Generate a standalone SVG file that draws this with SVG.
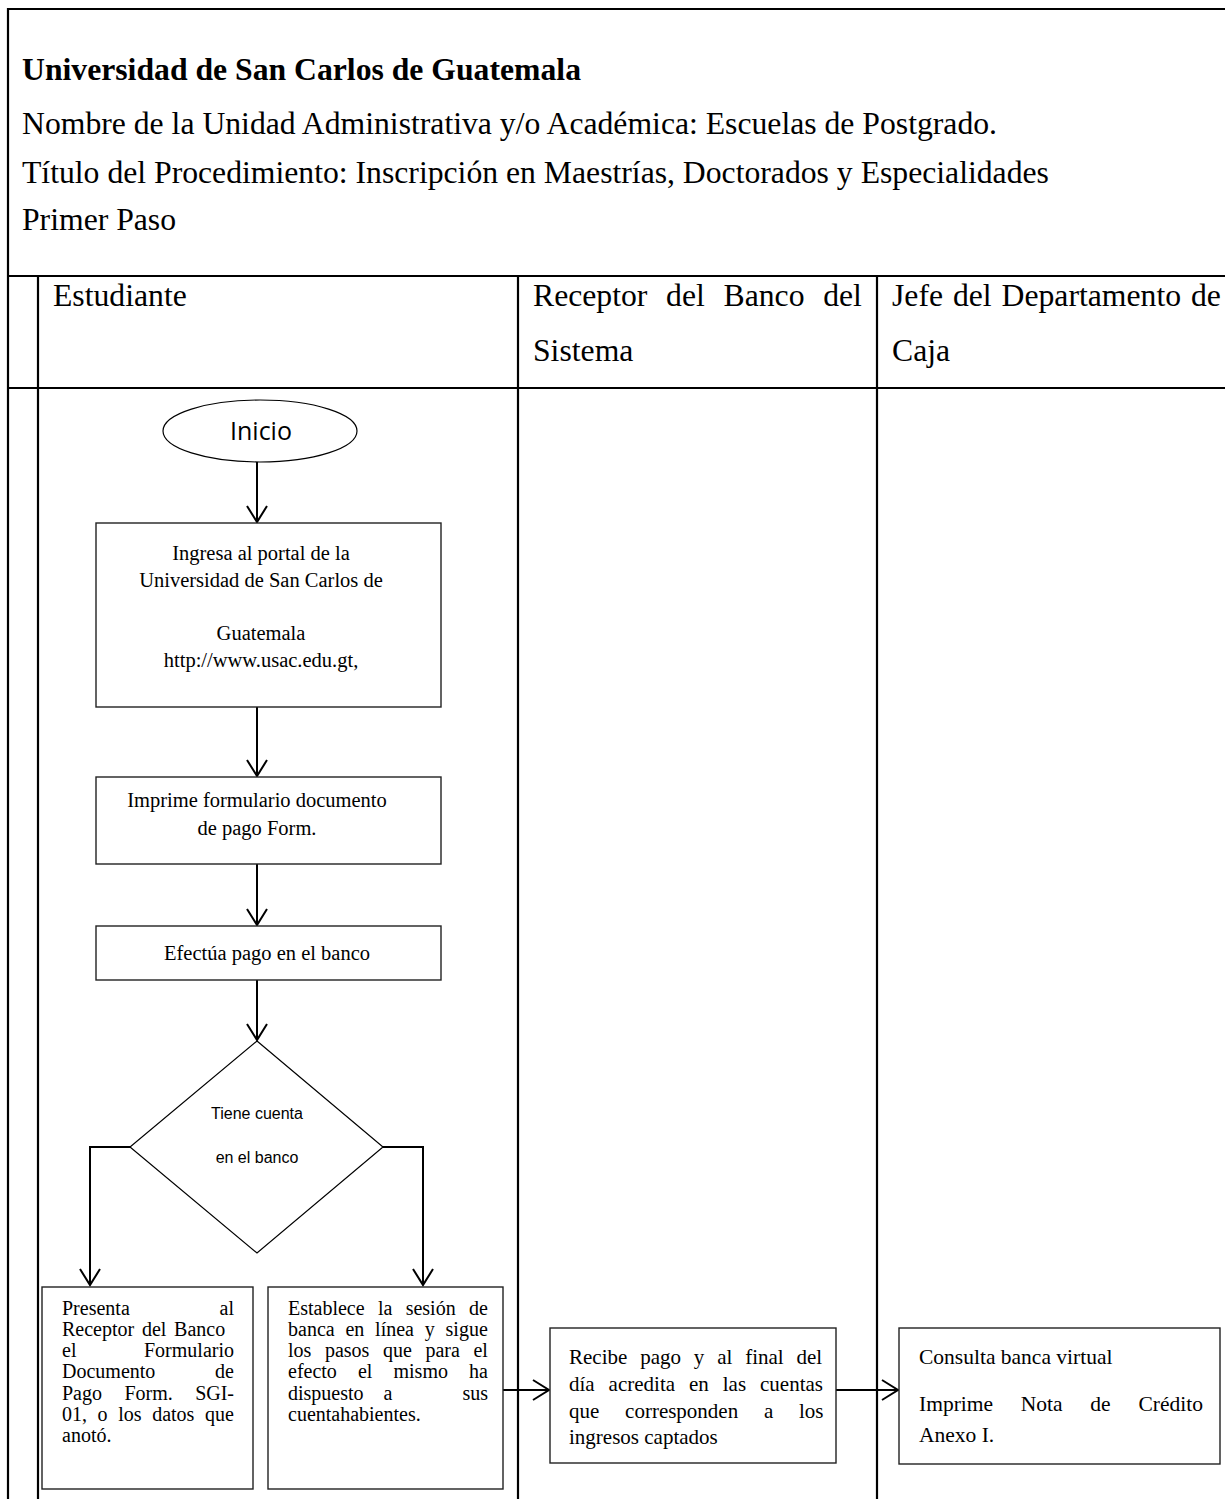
<svg xmlns="http://www.w3.org/2000/svg" width="1225" height="1499" viewBox="0 0 1225 1499">
<style>
.hd{font-family:"Liberation Serif","Times New Roman",serif;font-size:31.7px;fill:#000}
.bt{font-family:"Liberation Serif","Times New Roman",serif;font-size:20.5px;fill:#000}
.st{font-family:"Liberation Serif","Times New Roman",serif;font-size:20px;fill:#000}
.rc{font-family:"Liberation Serif","Times New Roman",serif;font-size:21px;fill:#000}
.jf{font-family:"Liberation Serif","Times New Roman",serif;font-size:21.5px;fill:#000}
.sans{font-family:"Liberation Sans",Arial,sans-serif;fill:#000}
.grid{stroke:#000;stroke-width:2.2;fill:none}
.box{fill:#fff;stroke:#222;stroke-width:1.4}
.conn{stroke:#000;stroke-width:2;fill:none}
</style>
<defs>
<marker id="ah" viewBox="0 0 24 24" markerWidth="24" markerHeight="24" refX="20" refY="12" orient="auto" markerUnits="userSpaceOnUse">
<path d="M4,2 L20,12 L4,22" fill="none" stroke="#000" stroke-width="2"/>
</marker>
</defs>
<rect width="1225" height="1499" fill="#fff"/>

<g id="table">
<path class="grid" d="M8,1499 V9 H1225"/>
<path class="grid" d="M8,276 H1225 M8,388 H1225"/>
<path class="grid" d="M38,276 V1499 M518,276 V1499 M877,276 V1499"/>
</g>

<g id="header">
<text class="hd" x="22" y="80" font-weight="bold">Universidad de San Carlos de Guatemala</text>
<text class="hd" x="22" y="134">Nombre de la Unidad Administrativa y/o Académica: Escuelas de Postgrado.</text>
<text class="hd" x="22" y="183">Título del Procedimiento: Inscripción en Maestrías, Doctorados y Especialidades</text>
<text class="hd" x="22" y="230">Primer Paso</text>
<text class="hd" x="53" y="306">Estudiante</text>
<text class="hd" x="533" y="306" word-spacing="10.8">Receptor del Banco del</text>
<text class="hd" x="533" y="361">Sistema</text>
<text class="hd" x="892" y="306" word-spacing="2">Jefe del Departamento de</text>
<text class="hd" x="892" y="361">Caja</text>
</g>

<g id="connectors">
<line class="conn" x1="257" y1="462" x2="257" y2="522" marker-end="url(#ah)"/>
<line class="conn" x1="257" y1="707" x2="257" y2="776" marker-end="url(#ah)"/>
<line class="conn" x1="257" y1="864" x2="257" y2="925" marker-end="url(#ah)"/>
<line class="conn" x1="257" y1="980" x2="257" y2="1040" marker-end="url(#ah)"/>
<polyline class="conn" points="130,1147 90,1147 90,1285" marker-end="url(#ah)"/>
<polyline class="conn" points="383,1147 423,1147 423,1285" marker-end="url(#ah)"/>
<line class="conn" x1="503" y1="1390" x2="549" y2="1390" marker-end="url(#ah)"/>
<line class="conn" x1="836" y1="1390" x2="898" y2="1390" marker-end="url(#ah)"/>
</g>

<g id="inicio">
<ellipse cx="260" cy="431" rx="97" ry="31" fill="#fff" stroke="#000" stroke-width="1.2"/>
<text x="261" y="440" text-anchor="middle" font-family="'Open Sans','Liberation Sans',sans-serif" font-size="25">Inicio</text>
</g>

<g id="ingresa">
<rect class="box" x="96" y="523" width="345" height="184"/>
<text class="bt" x="261" y="560" text-anchor="middle">Ingresa al portal de la</text>
<text class="bt" x="261" y="587" text-anchor="middle">Universidad de San Carlos de</text>
<text class="bt" x="261" y="640" text-anchor="middle">Guatemala</text>
<text class="bt" x="261" y="667" text-anchor="middle">http://www.usac.edu.gt,</text>
</g>

<g id="imprime">
<rect class="box" x="96" y="777" width="345" height="87"/>
<text class="bt" x="257" y="807" text-anchor="middle" font-size="21.4">Imprime formulario documento</text>
<text class="bt" x="257" y="835" text-anchor="middle" font-size="21.4">de pago Form.</text>
</g>

<g id="efectua">
<rect class="box" x="96" y="926" width="345" height="54"/>
<text class="bt" x="267" y="960" text-anchor="middle" font-size="23.5">Efectúa pago en el banco</text>
</g>

<g id="decision">
<polygon points="257,1041 383,1147 257,1253 130,1147" fill="#fff" stroke="#000" stroke-width="1.2"/>
<text class="sans" x="257" y="1119" text-anchor="middle" font-size="16">Tiene cuenta</text>
<text class="sans" x="257" y="1163" text-anchor="middle" font-size="16">en el banco</text>
</g>

<g id="presenta">
<rect class="box" x="42" y="1287" width="211" height="202"/>
<text class="st" x="62" y="1315">Presenta</text>
<text class="st" x="234" y="1315" text-anchor="end">al</text>
<text class="st" x="62" y="1336" word-spacing="2.75">Receptor del Banco</text>
<text class="st" x="62" y="1357">el</text>
<text class="st" x="234" y="1357" text-anchor="end">Formulario</text>
<text class="st" x="62" y="1378">Documento</text>
<text class="st" x="234" y="1378" text-anchor="end">de</text>
<text class="st" x="62" y="1400" word-spacing="17.4">Pago Form. SGI-</text>
<text class="st" x="62" y="1421" word-spacing="5.6">01, o los datos que</text>
<text class="st" x="62" y="1442">anotó.</text>
</g>

<g id="establece">
<rect class="box" x="268" y="1287" width="235" height="202"/>
<text class="st" x="288" y="1315" word-spacing="8.3">Establece la sesión de</text>
<text class="st" x="288" y="1336" word-spacing="5.8">banca en línea y sigue</text>
<text class="st" x="288" y="1357" word-spacing="8.6">los pasos que para el</text>
<text class="st" x="288" y="1378" word-spacing="16.1">efecto el mismo ha</text>
<text class="st" x="288" y="1400">dispuesto</text>
<text class="st" x="388" y="1400" text-anchor="middle">a</text>
<text class="st" x="488" y="1400" text-anchor="end">sus</text>
<text class="st" x="288" y="1421">cuentahabientes.</text>
</g>

<g id="recibe">
<rect class="box" x="550" y="1328" width="286" height="135"/>
<text class="rc" x="569" y="1364" word-spacing="7.6">Recibe pago y al final del</text>
<text class="rc" x="569" y="1391" word-spacing="8.7">día acredita en las cuentas</text>
<text class="rc" x="569" y="1418" word-spacing="20.5">que corresponden a los</text>
<text class="rc" x="569" y="1444">ingresos captados</text>
</g>

<g id="consulta">
<rect class="box" x="899" y="1328" width="321" height="136"/>
<text class="jf" x="919" y="1364">Consulta banca virtual</text>
<text class="jf" x="919" y="1411" word-spacing="22.4">Imprime Nota de Crédito</text>
<text class="jf" x="919" y="1442">Anexo I.</text>
</g>
</svg>
